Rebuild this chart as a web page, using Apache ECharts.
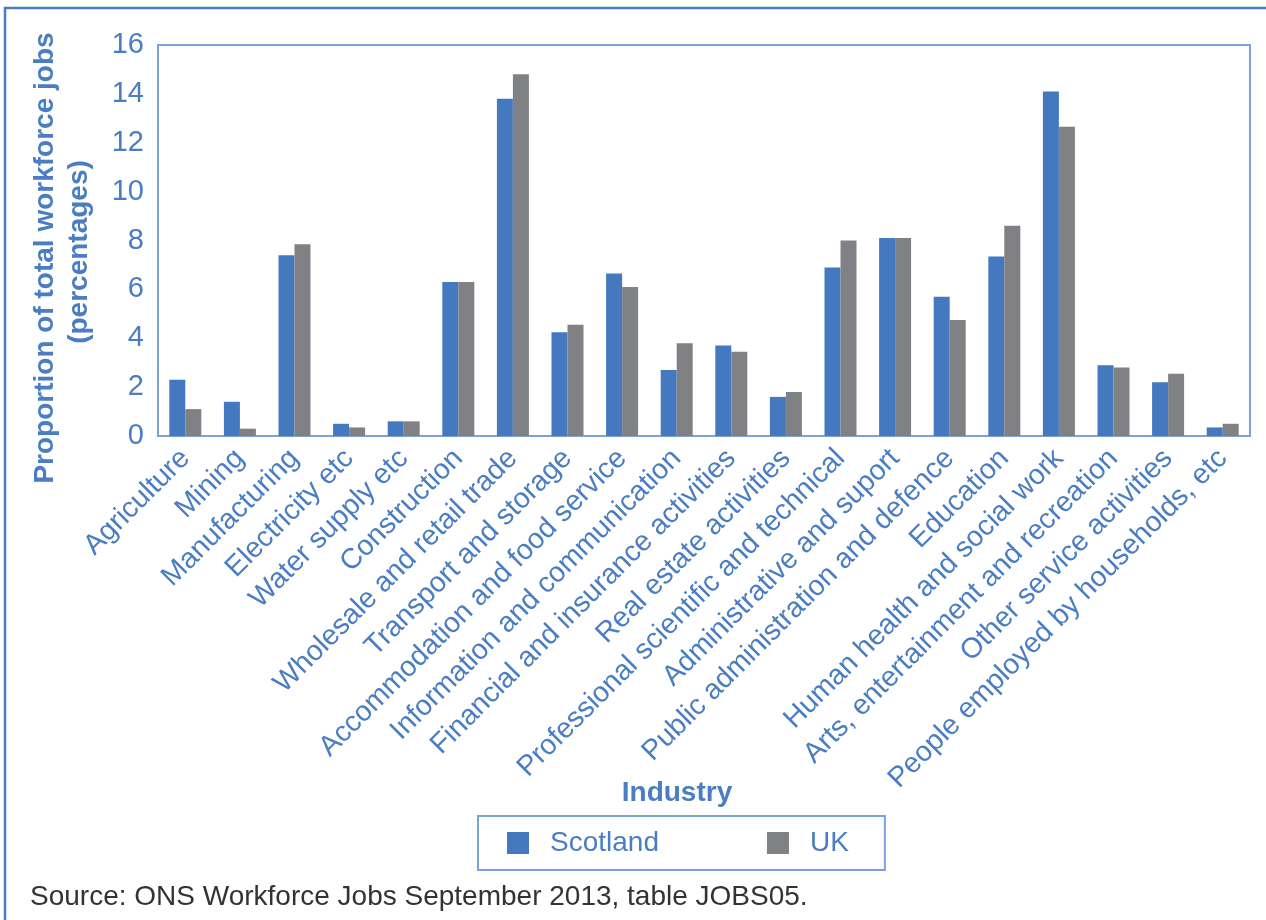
<!DOCTYPE html>
<html>
<head>
<meta charset="utf-8">
<script src="https://cdn.jsdelivr.net/npm/echarts@6/dist/echarts.min.js"></script>
<style>
html,body{margin:0;padding:0;background:#fff;}
#chart{width:1266px;height:920px;}
</style>
</head>
<body>
<div id="chart"></div>
<script>
const categories = ["Agriculture","Mining","Manufacturing","Electricity etc","Water supply etc","Construction","Wholesale and retail trade","Transport and storage","Accommodation and food service","Information and communication","Financial and insurance activities","Real estate activities","Professional scientific and technical","Administrative and suport","Public administration and defence","Education","Human health and social work","Arts, entertainment and recreation","Other service activities","People employed by households, etc"];
const scotland = [2.3,1.4,7.4,0.5,0.6,6.3,13.8,4.25,6.65,2.7,3.7,1.6,6.9,8.1,5.7,7.35,14.1,2.9,2.2,0.35];
const uk = [1.1,0.3,7.85,0.35,0.6,6.3,14.8,4.55,6.1,3.8,3.45,1.8,8.0,8.1,4.75,8.6,12.65,2.8,2.55,0.5];
const yTicks = [0,2,4,6,8,10,12,14,16];
const seriesNames = ["Scotland","UK"];
const yTitle = ["Proportion of total workforce jobs","(percentages)"];
const xTitle = "Industry";
const sourceText = "Source: ONS Workforce Jobs September 2013, table JOBS05.";

const BLUE_TEXT = "#4a7dc2";
const FONT = 'Liberation Sans, Arial, sans-serif';
const chart = echarts.init(document.getElementById('chart'));
chart.setOption({
  animation:false,
  backgroundColor:'#fff',
  textStyle:{fontFamily:FONT},
  grid:{left:158,right:16,top:45,bottom:484,show:true,borderColor:'#7ea2d8',borderWidth:2,containLabel:false},
  xAxis:{type:'category',data:categories,
    axisLine:{lineStyle:{color:'#7ea2d8',width:2}},
    axisTick:{show:false},
    axisLabel:{rotate:45,interval:0,margin:18,color:BLUE_TEXT,fontSize:28.5,fontFamily:FONT}
  },
  yAxis:{type:'value',min:yTicks[0],max:yTicks[yTicks.length-1],interval:2,
    axisLine:{show:false},axisTick:{show:false},splitLine:{show:false},
    axisLabel:{color:BLUE_TEXT,fontSize:29,margin:14}
  },
  legend:{data:seriesNames,left:478,top:816,orient:'horizontal',
    itemWidth:22,itemHeight:22,itemGap:108,
    borderColor:'#7ea2d8',borderWidth:2,padding:[13,36,13,29],
    textStyle:{color:BLUE_TEXT,fontSize:28,padding:[0,0,0,16]},
    icon:'rect'
  },
  series:[
    {name:seriesNames[0],type:'bar',data:scotland,barWidth:16,barGap:'0%',itemStyle:{color:'#4579bf'}},
    {name:seriesNames[1],type:'bar',data:uk,barWidth:16,barGap:'0%',itemStyle:{color:'#808184'}}
  ],
  graphic:[
    {type:'rect',shape:{x:5,y:8,width:1400,height:1100},style:{fill:'none',stroke:'#4a7dc2',lineWidth:2.5},silent:true,z:-1},
    {type:'text',x:45,y:258,rotation:Math.PI/2,style:{text:yTitle[0],font:'bold 28px '+FONT,fill:BLUE_TEXT,textAlign:'center',textVerticalAlign:'middle'}},
    {type:'text',x:79,y:252,rotation:Math.PI/2,style:{text:yTitle[1],font:'bold 28px '+FONT,fill:BLUE_TEXT,textAlign:'center',textVerticalAlign:'middle'}},
    {type:'text',x:677,y:793,style:{text:xTitle,font:'bold 28px '+FONT,fill:BLUE_TEXT,textAlign:'center',textVerticalAlign:'middle'}},
    {type:'text',x:30,y:897,style:{text:sourceText,font:'28px '+FONT,fill:'#333',textAlign:'left',textVerticalAlign:'middle'}}
  ]
});
</script>
</body>
</html>
